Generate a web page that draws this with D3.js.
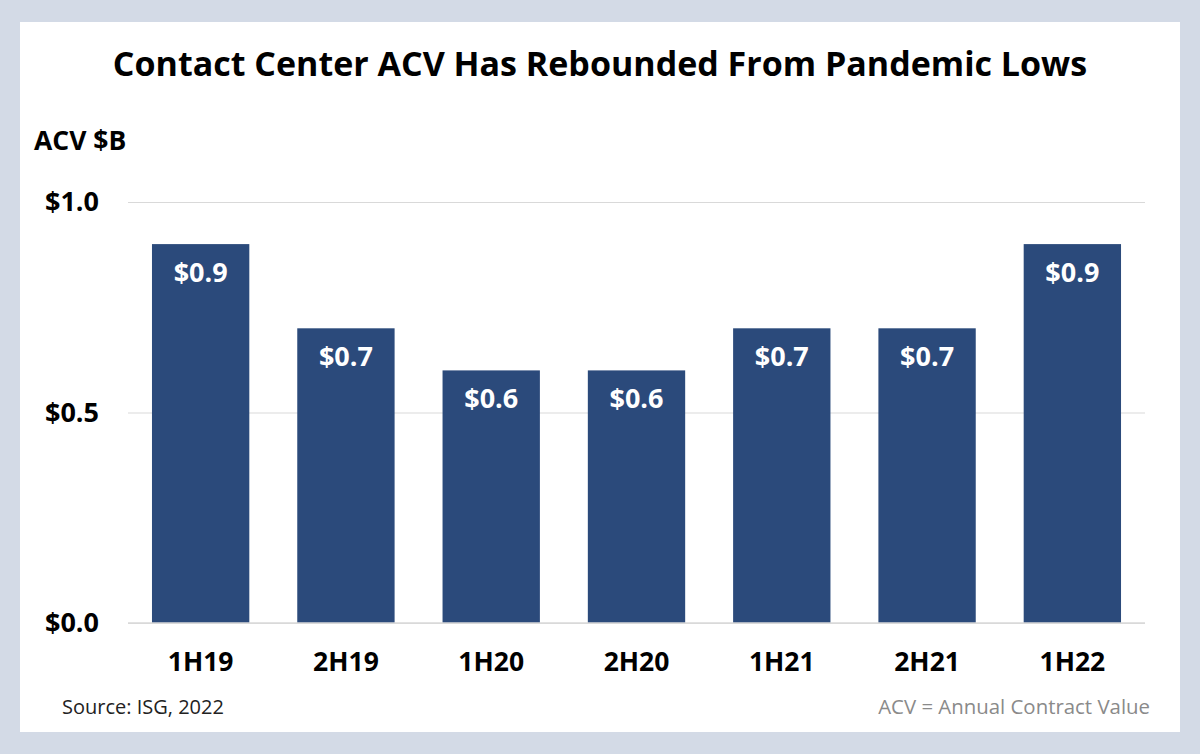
<!DOCTYPE html>
<html>
<head>
<meta charset="utf-8">
<script src="https://cdn.jsdelivr.net/npm/d3@7"></script>
<style>
  body { margin: 0; background: #d3dae6; }
  svg { display: block; font-family: "Open Sans", sans-serif; }
</style>
</head>
<body>
<svg></svg>
<script>
var periods = ["1H19", "2H19", "1H20", "2H20", "1H21", "2H21", "1H22"]
var acv = [0.9, 0.7, 0.6, 0.6, 0.7, 0.7, 0.9]
var yTicks = [0, 0.5, 1.0]

var screen = {width: 1200, height: 754}
var plot = {left: 128, right: 1145, top: 202, bottom: 623}

var svg = d3.select("svg")
    .attr("width", screen.width)
    .attr("height", screen.height)

// frame + white panel
svg.append("rect")
    .attr("width", screen.width)
    .attr("height", screen.height)
    .attr("fill", "#d3dae6")
svg.append("rect")
    .attr("x", 20).attr("y", 22)
    .attr("width", 1160).attr("height", 710)
    .attr("fill", "#ffffff")

var xScale = d3.scaleBand()
    .domain(periods)
    .range([plot.left, plot.right])
    .paddingInner(0.33)
    .paddingOuter(0.165)

var yScale = d3.scaleLinear()
    .domain([0, 1])
    .range([plot.bottom, plot.top])

// gridlines
var yAxis = d3.axisLeft(yScale)
    .tickValues(yTicks)
    .tickSize(-(plot.right - plot.left))
    .tickPadding(29)
    .tickFormat(function(d) { return "$" + d3.format(".1f")(d) })

var gy = svg.append("g")
    .attr("transform", "translate(" + plot.left + ",0)")
    .call(yAxis)
gy.select(".domain").remove()
gy.selectAll("line").attr("stroke", "#d9d9d9").attr("stroke-width", 1)
gy.selectAll("text")
    .attr("font-size", 27)
    .attr("font-weight", "bold")
    .attr("fill", "#000")
    .attr("font-family", "Open Sans")

// bars
svg.append("g")
    .selectAll("rect")
    .data(acv)
    .enter()
    .append("rect")
    .attr("x", function(d, i) { return xScale(periods[i]) })
    .attr("y", function(d) { return yScale(d) })
    .attr("width", xScale.bandwidth())
    .attr("height", function(d) { return yScale(0) - yScale(d) })
    .attr("fill", "#2b4a7b")

// baseline
svg.append("line")
    .attr("x1", plot.left).attr("x2", plot.right)
    .attr("y1", yScale(0)).attr("y2", yScale(0))
    .attr("stroke", "#d9d9d9")
    .attr("stroke-width", 1.5)

// value labels
svg.append("g")
    .selectAll("text")
    .data(acv)
    .enter()
    .append("text")
    .attr("x", function(d, i) { return xScale(periods[i]) + xScale.bandwidth() / 2 })
    .attr("y", function(d) { return yScale(d) + 38 })
    .attr("text-anchor", "middle")
    .attr("font-size", 27)
    .attr("font-weight", "bold")
    .attr("fill", "#ffffff")
    .text(function(d) { return "$" + d3.format(".1f")(d) })

// x axis labels
var xAxis = d3.axisBottom(xScale).tickSize(0).tickPadding(29)
var gx = svg.append("g")
    .attr("transform", "translate(0," + plot.bottom + ")")
    .call(xAxis)
gx.select(".domain").remove()
gx.selectAll("text")
    .attr("font-size", 26.5)
    .attr("font-weight", "bold")
    .attr("fill", "#000")
    .attr("font-family", "Open Sans")

// title
svg.append("text")
    .attr("x", 600).attr("y", 76)
    .attr("text-anchor", "middle")
    .attr("font-size", 34)
    .attr("font-weight", "bold")
    .attr("fill", "#000")
    .text("Contact Center ACV Has Rebounded From Pandemic Lows")

svg.append("text")
    .attr("x", 34).attr("y", 150)
    .attr("font-size", 26.5)
    .attr("font-weight", "bold")
    .attr("fill", "#000")
    .text("ACV $B")

svg.append("text")
    .attr("x", 62).attr("y", 714)
    .attr("font-size", 20)
    .attr("fill", "#222")
    .text("Source: ISG, 2022")

svg.append("text")
    .attr("x", 1150).attr("y", 714)
    .attr("text-anchor", "end")
    .attr("font-size", 20.4)
    .attr("fill", "#8a8a8a")
    .text("ACV = Annual Contract Value")
</script>
</body>
</html>
